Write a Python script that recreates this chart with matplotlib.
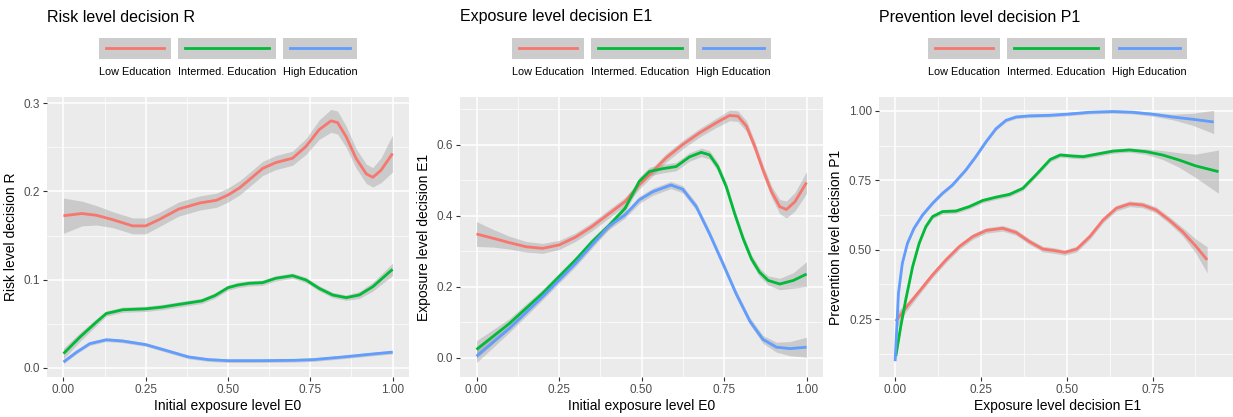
import matplotlib
matplotlib.use("Agg")
import matplotlib.pyplot as plt
from matplotlib.patches import Rectangle
from matplotlib.lines import Line2D
from matplotlib.ticker import MultipleLocator

plt.rcParams['font.family'] = ['Liberation Sans', 'DejaVu Sans']

LOW, MID, HIGH = '#F8766D', '#00BA38', '#619CFF'
labels = ['Low Education', 'Intermed. Education', 'High Education']

# Panel 1: risk level decision R vs initial exposure E0
r_low_x = [0.0, 0.056, 0.10, 0.15, 0.21, 0.25, 0.29, 0.35, 0.415, 0.465, 0.50, 0.535, 0.564,
           0.605, 0.645, 0.696, 0.737, 0.777, 0.813, 0.833, 0.859, 0.889, 0.920, 0.940, 0.965, 1.0]
r_low_y = [0.1725, 0.175, 0.173, 0.168, 0.161, 0.161, 0.168, 0.18, 0.187, 0.19, 0.196, 0.204,
           0.213, 0.226, 0.2327, 0.2376, 0.251, 0.270, 0.280, 0.278, 0.262, 0.2376, 0.220,
           0.216, 0.224, 0.243]
r_low_se = [0.020, 0.014, 0.011, 0.009, 0.009, 0.009, 0.008, 0.008, 0.008, 0.008, 0.008, 0.008,
            0.008, 0.008, 0.008, 0.008, 0.009, 0.011, 0.013, 0.013, 0.012, 0.011, 0.011, 0.011,
            0.014, 0.021]

r_mid_x = [0.0, 0.05, 0.10, 0.13, 0.18, 0.25, 0.30, 0.35, 0.42, 0.46, 0.50, 0.53, 0.564, 0.605,
           0.645, 0.696, 0.737, 0.777, 0.818, 0.859, 0.899, 0.940, 1.0]
r_mid_y = [0.0163, 0.035, 0.052, 0.0617, 0.066, 0.067, 0.069, 0.072, 0.076, 0.082, 0.091, 0.094,
           0.0959, 0.0967, 0.1016, 0.1046, 0.0997, 0.0902, 0.0827, 0.0797, 0.0827, 0.0921, 0.1118]
r_mid_se = [0.006, 0.005, 0.004, 0.003, 0.003, 0.003, 0.003, 0.003, 0.003, 0.003, 0.003, 0.003,
            0.003, 0.003, 0.003, 0.003, 0.003, 0.003, 0.003, 0.003, 0.004, 0.005, 0.007]

r_high_x = [0.0, 0.04, 0.08, 0.13, 0.18, 0.25, 0.32, 0.38, 0.44, 0.50, 0.60, 0.70, 0.76,
            0.85, 0.93, 1.0]
r_high_y = [0.0068, 0.018, 0.0276, 0.032, 0.0306, 0.0265, 0.019, 0.0125, 0.0095, 0.0083,
            0.0083, 0.0087, 0.0095, 0.0125, 0.0155, 0.018]
r_high_se = [0.002] * 16

# Panel 2: exposure level decision E1 vs initial exposure E0
e_low_x = [0.0, 0.05, 0.10, 0.15, 0.20, 0.25, 0.30, 0.35, 0.40, 0.45, 0.493, 0.534, 0.574,
           0.625, 0.676, 0.726, 0.767, 0.792, 0.818, 0.843, 0.868, 0.894, 0.919, 0.939, 0.965, 1.0]
e_low_y = [0.349, 0.337, 0.3245, 0.313, 0.3085, 0.318, 0.340, 0.370, 0.405, 0.440, 0.487,
           0.525, 0.563, 0.601, 0.634, 0.662, 0.683, 0.681, 0.653, 0.596, 0.530, 0.468, 0.426,
           0.418, 0.440, 0.494]
e_low_se = [0.035, 0.025, 0.018, 0.015, 0.014, 0.013, 0.012, 0.012, 0.012, 0.012, 0.012,
            0.012, 0.012, 0.012, 0.012, 0.013, 0.015, 0.015, 0.015, 0.015, 0.015, 0.016,
            0.020, 0.024, 0.026, 0.031]

e_mid_x = [0.0, 0.10, 0.20, 0.30, 0.35, 0.40, 0.45, 0.493, 0.524, 0.564, 0.605, 0.645, 0.681,
           0.706, 0.731, 0.757, 0.782, 0.808, 0.833, 0.858, 0.884, 0.919, 0.960, 1.0]
e_mid_y = [0.0235, 0.097, 0.1816, 0.2756, 0.327, 0.3716, 0.421, 0.497, 0.525, 0.533, 0.539,
           0.566, 0.579, 0.572, 0.539, 0.482, 0.407, 0.336, 0.279, 0.241, 0.218, 0.208,
           0.218, 0.236]
e_mid_se = [0.025, 0.014, 0.011, 0.010, 0.010, 0.010, 0.011, 0.012, 0.012, 0.012, 0.012,
            0.012, 0.012, 0.012, 0.012, 0.012, 0.012, 0.012, 0.012, 0.012, 0.013, 0.016,
            0.022, 0.035]

e_high_x = [0.0, 0.10, 0.20, 0.30, 0.35, 0.40, 0.45, 0.493, 0.534, 0.589, 0.625, 0.666, 0.706,
            0.747, 0.787, 0.828, 0.868, 0.909, 0.950, 1.0]
e_high_y = [0.0047, 0.083, 0.172, 0.266, 0.318, 0.370, 0.4026, 0.445, 0.468, 0.487, 0.475,
            0.426, 0.350, 0.265, 0.180, 0.104, 0.052, 0.030, 0.026, 0.030]
e_high_se = [0.018, 0.011, 0.009, 0.009, 0.009, 0.009, 0.009, 0.010, 0.010, 0.010, 0.010,
             0.010, 0.010, 0.010, 0.010, 0.010, 0.011, 0.014, 0.020, 0.028]

# Panel 3: prevention level decision P1 vs exposure decision E1
p_low_x = [0.002, 0.031, 0.070, 0.109, 0.148, 0.187, 0.226, 0.265, 0.313, 0.352, 0.391, 0.430,
           0.4615, 0.495, 0.529, 0.567, 0.606, 0.644, 0.683, 0.721, 0.760, 0.798, 0.837,
           0.875, 0.909]
p_low_y = [0.242, 0.290, 0.349, 0.409, 0.463, 0.511, 0.547, 0.569, 0.577, 0.562, 0.529, 0.502,
           0.497, 0.490, 0.502, 0.547, 0.607, 0.649, 0.665, 0.661, 0.643, 0.607, 0.565,
           0.514, 0.463]
p_low_se = [0.030, 0.015, 0.011, 0.010, 0.010, 0.010, 0.010, 0.010, 0.010, 0.010, 0.010, 0.010,
            0.010, 0.010, 0.010, 0.010, 0.010, 0.010, 0.010, 0.010, 0.011, 0.012, 0.015,
            0.025, 0.047]

p_mid_x = [0.002, 0.0165, 0.031, 0.051, 0.070, 0.0895, 0.109, 0.138, 0.177, 0.216, 0.255,
           0.294, 0.333, 0.372, 0.410, 0.452, 0.481, 0.519, 0.548, 0.587, 0.635, 0.683,
           0.731, 0.779, 0.827, 0.875, 0.942]
p_mid_y = [0.116, 0.224, 0.320, 0.439, 0.523, 0.583, 0.619, 0.637, 0.639, 0.655, 0.677,
           0.689, 0.699, 0.721, 0.769, 0.825, 0.841, 0.837, 0.835, 0.844, 0.855, 0.859,
           0.853, 0.841, 0.823, 0.802, 0.781]
p_mid_se = [0.012, 0.010, 0.008, 0.008, 0.008, 0.008, 0.008, 0.008, 0.008, 0.008, 0.008,
            0.008, 0.008, 0.008, 0.008, 0.008, 0.008, 0.008, 0.008, 0.008, 0.008, 0.008,
            0.010, 0.016, 0.026, 0.042, 0.078]

p_high_x = [0.0, 0.0097, 0.021, 0.036, 0.055, 0.080, 0.109, 0.138, 0.167, 0.206, 0.235, 0.265,
            0.294, 0.323, 0.352, 0.391, 0.45, 0.5, 0.567, 0.635, 0.692, 0.75, 0.808, 0.865, 0.928]
p_high_y = [0.098, 0.343, 0.451, 0.523, 0.577, 0.625, 0.667, 0.703, 0.733, 0.787, 0.835, 0.889,
            0.936, 0.966, 0.978, 0.982, 0.984, 0.988, 0.995, 0.9976, 0.995, 0.988, 0.978,
            0.970, 0.960]
p_high_se = [0.010, 0.008, 0.007, 0.006, 0.006, 0.006, 0.006, 0.006, 0.006, 0.006, 0.006,
             0.006, 0.006, 0.006, 0.006, 0.006, 0.006, 0.006, 0.006, 0.006, 0.006, 0.007,
             0.010, 0.021, 0.042]

panels = [
    dict(title='Risk level decision R', xlabel='Initial exposure level E0',
         ylabel='Risk level decision R',
         series=[(r_low_x, r_low_y, r_low_se), (r_mid_x, r_mid_y, r_mid_se),
                 (r_high_x, r_high_y, r_high_se)],
         xlim=(-0.05, 1.05), ylim=(-0.0102, 0.307), xmajor=0.25, ymajor=0.1,
         yfmt='{:.1f}', rect=(47, 97, 409, 377)),
    dict(title='Exposure level decision E1', xlabel='Initial exposure level E0',
         ylabel='Exposure level decision E1',
         series=[(e_low_x, e_low_y, e_low_se), (e_mid_x, e_mid_y, e_mid_se),
                 (e_high_x, e_high_y, e_high_se)],
         xlim=(-0.05, 1.05), ylim=(-0.054, 0.735), xmajor=0.25, ymajor=0.2,
         yfmt='{:.1f}', rect=(460, 97, 823, 377)),
    dict(title='Prevention level decision P1', xlabel='Exposure level decision E1',
         ylabel='Prevention level decision P1',
         series=[(p_low_x, p_low_y, p_low_se), (p_mid_x, p_mid_y, p_mid_se),
                 (p_high_x, p_high_y, p_high_se)],
         xlim=(-0.047, 0.993), ylim=(0.041, 1.05), xmajor=0.25, ymajor=0.25,
         yfmt='{:.2f}', rect=(879, 97, 1236, 377)),
]

W, H = 1233, 417
fig = plt.figure(figsize=(W / 100, H / 100), dpi=100)
fig.patch.set_facecolor('white')

for p in panels:
    x0, y0, x1, y1 = p['rect']
    ax = fig.add_axes([x0 / W, 1 - y1 / H, (x1 - x0) / W, (y1 - y0) / H])
    ax.set_facecolor('#EBEBEB')
    for s in ax.spines.values():
        s.set_visible(False)
    ax.set_xlim(*p['xlim'])
    ax.set_ylim(*p['ylim'])
    ax.xaxis.set_major_locator(MultipleLocator(p['xmajor']))
    ax.xaxis.set_minor_locator(MultipleLocator(p['xmajor'] / 2))
    ax.yaxis.set_major_locator(MultipleLocator(p['ymajor']))
    ax.yaxis.set_minor_locator(MultipleLocator(p['ymajor'] / 2))
    ax.grid(which='major', color='white', lw=1.1)
    ax.grid(which='minor', color='white', lw=0.5)
    ax.set_axisbelow(True)
    ax.tick_params(which='major', length=3, width=0.8, color='#333333',
                   labelsize=8.5, labelcolor='#4D4D4D', pad=2)
    ax.tick_params(which='minor', length=0)
    ax.xaxis.set_major_formatter(plt.FuncFormatter(lambda v, _: '{:.2f}'.format(v)))
    fmt = p['yfmt']
    ax.yaxis.set_major_formatter(plt.FuncFormatter(lambda v, _, f=fmt: f.format(v)))
    ax.set_xlabel(p['xlabel'], fontsize=10, labelpad=2)
    ax.set_ylabel(p['ylabel'], fontsize=10, labelpad=4)

    for (xs, ys, se), c in zip(p['series'], [LOW, MID, HIGH]):
        lo = [y - e for y, e in zip(ys, se)]
        hi = [y + e for y, e in zip(ys, se)]
        ax.fill_between(xs, lo, hi, color='#999999', alpha=0.4, lw=0)
        ax.plot(xs, ys, color=c, lw=2, solid_capstyle='butt', solid_joinstyle='round')

    # title
    fig.text(x0 / W, 1 - 17 / H, p['title'], fontsize=11.5, va='center', ha='left')

    # legend keys across the top, centered over the panel
    fig.canvas.draw()
    r = fig.canvas.get_renderer()
    texts = []
    for lab in labels:
        t = fig.text(0, 1 - 72 / H, lab, fontsize=7.8, va='center', ha='left')
        texts.append(t)
    widths = [t.get_window_extent(r).width for t in texts]
    gap = 7
    total = sum(widths) + gap * (len(widths) - 1)
    cx = (x0 + x1) / 2
    left = cx - total / 2
    for t, w, c in zip(texts, widths, [LOW, MID, HIGH]):
        t.set_x(left / W)
        fig.patches.append(Rectangle((left / W, 1 - 59 / H), w / W, 21 / H,
                                     transform=fig.transFigure, facecolor='#CCCCCC',
                                     edgecolor='none'))
        fig.lines.append(Line2D([(left + 7) / W, (left + w - 7) / W], [1 - 48 / H] * 2,
                                transform=fig.transFigure, color=c, lw=2))
        left += w + gap

fig.savefig('out.png', dpi=100)
